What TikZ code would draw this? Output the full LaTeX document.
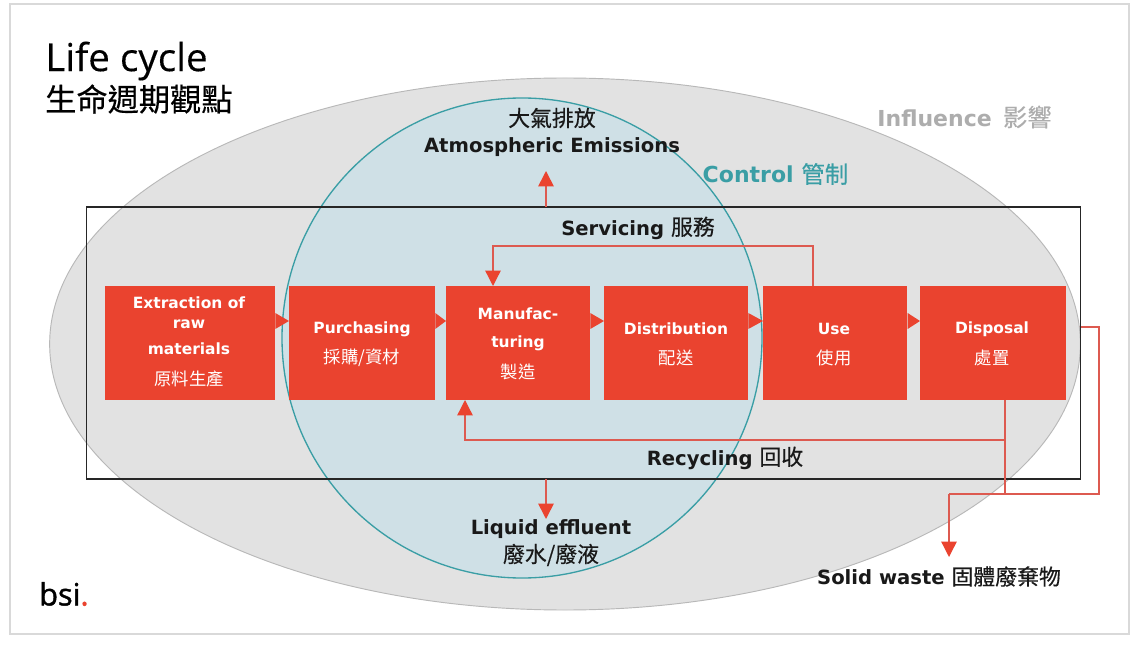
\documentclass[tikz,border=0pt]{standalone}
\usepackage{fontspec}
\usetikzlibrary{arrows.meta,shapes.geometric}
\setmainfont{DejaVu Sans}
\newfontfamily\cjkf[FakeBold=0.35]{Noto Sans CJK TC}
\newfontfamily\cjkw{Noto Sans CJK TC}
\newfontfamily\titlef[FakeBold=0.25]{Open Sans}
\newfontfamily\bsif[FakeBold=1.4]{Open Sans}
\definecolor{bsired}{HTML}{EA432F}
\definecolor{linered}{HTML}{DD5A50}
\definecolor{ellfill}{HTML}{E2E2E2}
\definecolor{circfill}{HTML}{CFE0E6}
\definecolor{teal1}{HTML}{3A9EA5}
\tikzset{
  stagebox/.style={fill=bsired,minimum height=85.5pt,inner sep=0pt},
  stagetxt/.style={text=white,inner sep=0pt,font=\fontsize{11.6}{14}\selectfont\bfseries},
  stagezh/.style={text=white,inner sep=0pt,font=\fontsize{13}{15}\selectfont\cjkw},
  chev/.style={fill=bsired},
  flow/.style={draw=linered,line width=1pt},
  flowa/.style={flow,-{Triangle[width=11.5pt,length=11.5pt,color=bsired]}},
  lab/.style={inner sep=0pt,align=center,text=black!90,font=\fontsize{14.7}{17}\selectfont\bfseries},
  bigl/.style={lab,font=\fontsize{16.5}{20}\selectfont\bfseries},
}
\newcommand{\zh}[1]{{\fontsize{16.4}{20}\selectfont\cjkf\mdseries #1}}
\newcommand{\zhb}[1]{{\fontsize{17.6}{20}\selectfont\cjkf\mdseries #1}}
\begin{document}
\begin{tikzpicture}[x=0.75pt,y=-0.75pt]
\useasboundingbox (0,0) rectangle (1134,648);
\fill[white] (0,0) rectangle (1134,648);
\draw[black!15,line width=1.2pt] (10,4) rectangle (1129,634);
% connector hidden behind the ellipse at its start
\coordinate (dispR) at (1065,327);
\coordinate (sw) at (949,494);
\coordinate (swtip) at (949,557);
\draw[flow] (dispR) -- (1099,327) -- (1099,494) -- (sw);
\node[ellipse,draw=black!28,fill=ellfill,line width=.7pt,minimum width=773pt,minimum height=399pt,inner sep=0pt] (influence) at (565,344) {};
\node[circle,draw=teal1,fill=circfill,line width=1pt,minimum size=360pt,inner sep=0pt] (control) at (522,338) {};
\node[draw=black!85,line width=.8pt,minimum width=746pt,minimum height=204pt,inner sep=0pt] (frame) at (583.5,343) {};
% stages
\node[stagebox,minimum width=127.5pt] (ext) at (190,343) {};
\node[stagebox,minimum width=109.5pt] (pur) at (362,343) {};
\node[stagebox,minimum width=108pt] (man) at (518,343) {};
\node[stagebox,minimum width=108pt] (dis) at (676,343) {};
\node[stagebox,minimum width=108.5pt] (use) at (835,343) {};
\node[stagebox,minimum width=109.5pt] (dsp) at (992.5,343) {};
% chevrons
\fill[chev] (ext.east |- 0,313) -- (289,321) -- (ext.east |- 0,329) -- cycle;
\fill[chev] (pur.east |- 0,313) -- (446,321) -- (pur.east |- 0,329) -- cycle;
\fill[chev] (man.east |- 0,313) -- (604,321) -- (man.east |- 0,329) -- cycle;
\fill[chev] (dis.east |- 0,313) -- (763,321) -- (dis.east |- 0,329) -- cycle;
\fill[chev] (use.east |- 0,313) -- (920,321) -- (use.east |- 0,329) -- cycle;
% stage text
\node[stagetxt] (t1a) at (189,303) {Extraction of};
\node[stagetxt] (t1b) at (189,324) {raw};
\node[stagetxt] (t1c) at (189,349) {materials};
\node[stagezh] (t1d) at (189,379) {原料生產};
\node[stagetxt] (t2a) at (362,329) {Purchasing};
\node[stagezh] (t2b) at (362,358) {採購/資材};
\node[stagetxt] (t3a) at (518,314) {Manufac-};
\node[stagetxt] (t3b) at (518,343) {turing};
\node[stagezh] (t3c) at (518,372) {製造};
\node[stagetxt] (t4a) at (676,329) {Distribution};
\node[stagezh] (t4b) at (676,358) {配送};
\node[stagetxt] (t5a) at (834,329) {Use};
\node[stagezh] (t5b) at (834,358) {使用};
\node[stagetxt] (t6a) at (992,329) {Disposal};
\node[stagezh] (t6b) at (992,358) {處置};
% connectors
\coordinate (usetop) at (813,286);
\coordinate (mantop) at (493,286);
\draw[flowa] (usetop) -- (813,246) -- (493,246) -- (mantop);
\coordinate (dspbot) at (1005,400);
\coordinate (manbot) at (465,400);
\draw[flowa] (dspbot) -- (1005,440) -- (465,440) -- (manbot);
\draw[flow] (1005,440) -- (1005,494) -- (sw);
\draw[flowa] (sw) -- (swtip);
\coordinate (ftop) at (546,207);
\coordinate (atm) at (546,171);
\draw[flowa,line width=1.2pt] (ftop) -- (atm);
\coordinate (fbot) at (546,479);
\coordinate (liq) at (546,519);
\draw[flowa,line width=1.2pt] (fbot) -- (liq);
% labels
\node[inner sep=0pt,anchor=west,font=\fontsize{29}{32}\selectfont\titlef] (title) at (45,61) {Life cycle};
\node[inner sep=0pt,anchor=west,font=\fontsize{23.4}{26}\selectfont\cjkf] (title2) at (45,99) {生命週期觀點};
\node[lab] (a1) at (552,118) {\zh{大氣排放}};
\node[lab] (a2) at (552,147) {Atmospheric Emissions};
\node[bigl,text=teal1] (ctrl) at (775.5,174) {Control \zhb{管制}};
\node[bigl,text=black!32] (infl) at (964.5,117) {Influence \,{\fontsize{18.2}{20}\selectfont\cjkf\mdseries 影響}};
\node[lab] (serv) at (638,228) {Servicing \zh{服務}};
\node[lab] (recy) at (725,458) {Recycling \zh{回收}};
\node[lab] (l1) at (551,529) {Liquid effluent};
\node[lab] (l2) at (551,555) {\zh{廢水/廢液}};
\node[lab] (solid) at (939,576.5) {Solid waste \zh{固體廢棄物}};
\node[inner sep=0pt,anchor=west,font=\fontsize{23}{26}\selectfont\bsif] (bsi) at (39,594) {bsi\textcolor{bsired}{.}};
\end{tikzpicture}
\end{document}
